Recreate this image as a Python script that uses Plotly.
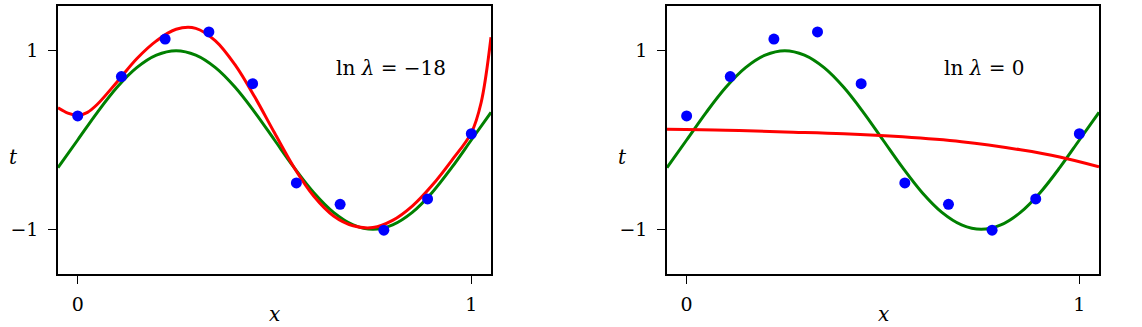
import plotly.graph_objects as go

# Observed data points
x_data = [0.0, 0.1111, 0.2222, 0.3333, 0.4444, 0.5556, 0.6667, 0.7778, 0.8889, 1.0]
t_data = [0.27, 0.71, 1.13, 1.21, 0.63, -0.48, -0.72, -1.01, -0.66, 0.07]

# Green curve (true function)
x_green = [-0.05, 0.0, 0.05, 0.1, 0.15, 0.2, 0.25, 0.3, 0.35, 0.4, 0.45, 0.5, 0.55,
           0.6, 0.65, 0.7, 0.75, 0.8, 0.85, 0.9, 0.95, 1.0, 1.05]
t_green = [-0.31, 0.0, 0.31, 0.59, 0.81, 0.95, 1.0, 0.95, 0.81, 0.59, 0.31, 0.0, -0.31,
           -0.59, -0.81, -0.95, -1.0, -0.95, -0.81, -0.59, -0.31, 0.0, 0.31]

# Red curve, ln lambda = -18
x_red1 = [-0.05, -0.025, 0.0, 0.025, 0.05, 0.1, 0.15, 0.2, 0.25, 0.3, 0.35, 0.4, 0.45, 0.5, 0.55,
          0.6, 0.65, 0.7, 0.75, 0.8, 0.85, 0.9, 0.95, 1.0, 1.025, 1.05]
t_red1 = [0.36, 0.30, 0.275, 0.31, 0.40, 0.65, 0.91, 1.11, 1.24, 1.25, 1.11, 0.84, 0.48, 0.08, -0.31,
          -0.63, -0.85, -0.96, -0.98, -0.90, -0.74, -0.51, -0.23, 0.08, 0.42, 1.15]

# Red curve, ln lambda = 0
x_red2 = [-0.05, 0.1, 0.25, 0.4, 0.55, 0.7, 0.85, 0.95, 1.05]
t_red2 = [0.12, 0.11, 0.09, 0.07, 0.035, -0.02, -0.11, -0.19, -0.30]

labels = ["ln <i>λ</i> = −18", "ln <i>λ</i> = 0"]

W, H = 1142, 327
FONT = "DejaVu Serif"

fig = go.Figure()
reds = [(x_red1, t_red1), (x_red2, t_red2)]
for i, (xr, tr) in enumerate(reds):
    xa = "x" if i == 0 else "x2"
    ya = "y" if i == 0 else "y2"
    fig.add_trace(go.Scatter(x=x_green, y=t_green, mode="lines",
                             line=dict(color="#008000", width=3, shape="spline", smoothing=1.0),
                             xaxis=xa, yaxis=ya, showlegend=False))
    fig.add_trace(go.Scatter(x=xr, y=tr, mode="lines",
                             line=dict(color="#ff0000", width=3, shape="spline", smoothing=1.0),
                             xaxis=xa, yaxis=ya, showlegend=False))
    fig.add_trace(go.Scatter(x=x_data, y=t_data, mode="markers", marker=dict(color="#0000ff", size=11),
                             xaxis=xa, yaxis=ya, showlegend=False, cliponaxis=False))

xdoms = [[58 / W, 491 / W], [667 / W, 1099 / W]]
ydom = [1 - 274 / H, 1 - 6 / H]
common = dict(showgrid=False, zeroline=False, showline=True, linecolor="black", linewidth=1.5,
              mirror=True, ticks="outside", ticklen=8, tickwidth=1.2, tickcolor="black",
              tickfont=dict(family=FONT, size=19, color="black"))
xcommon = dict(common, ticklabelstandoff=4)
ycommon = dict(common, ticklabelstandoff=6)
fig.update_layout(
    xaxis=dict(domain=xdoms[0], range=[-0.05, 1.05], tickvals=[0, 1], ticktext=["0", "1"], anchor="y", **xcommon),
    yaxis=dict(domain=ydom, range=[-1.5, 1.5], tickvals=[-1, 1], ticktext=["−1", "1"], anchor="x", **ycommon),
    xaxis2=dict(domain=xdoms[1], range=[-0.05, 1.05], tickvals=[0, 1], ticktext=["0", "1"], anchor="y2", **xcommon),
    yaxis2=dict(domain=ydom, range=[-1.5, 1.5], tickvals=[-1, 1], ticktext=["−1", "1"], anchor="x2", **ycommon),
    width=W, height=H, margin=dict(l=0, r=0, t=0, b=0),
    plot_bgcolor="white", paper_bgcolor="white",
    font=dict(family=FONT, color="black"),
)

ann = []
for i in range(2):
    xr = "x" if i == 0 else "x2"
    yr = "y" if i == 0 else "y2"
    ann.append(dict(x=0.65, y=0.806, xref=xr, yref=yr, text=labels[i], showarrow=False,
                    xanchor="left", yanchor="middle", font=dict(family=FONT, size=20, color="black")))
    cx = (xdoms[i][0] + xdoms[i][1]) / 2
    ann.append(dict(x=cx, y=1 - 314 / H, xref="paper", yref="paper", text="<i>x</i>", showarrow=False,
                    xanchor="center", yanchor="middle", font=dict(family=FONT, size=20, color="black")))
    tx = 13 / W if i == 0 else (13 + 609) / W
    ann.append(dict(x=tx, y=1 - 157 / H, xref="paper", yref="paper", text="<i>t</i>", showarrow=False,
                    xanchor="center", yanchor="middle", font=dict(family=FONT, size=20, color="black")))
fig.update_layout(annotations=ann)

fig.write_html("out.html")
